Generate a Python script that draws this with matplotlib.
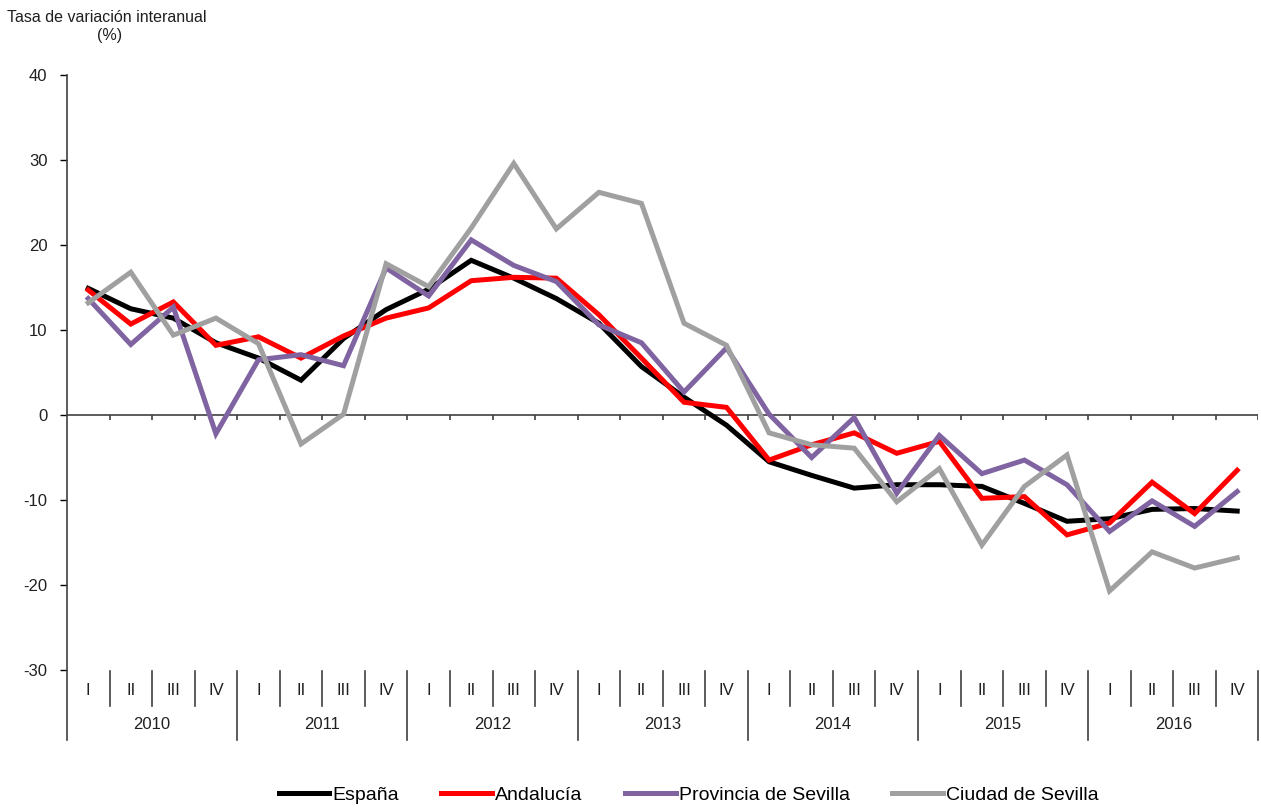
import matplotlib
matplotlib.use("Agg")
import matplotlib.pyplot as plt
from matplotlib.transforms import blended_transform_factory

plt.rcParams['font.family'] = ['Liberation Sans', 'DejaVu Sans']
plt.rcParams['axes.unicode_minus'] = False

# Datos trimestrales 2010-2016 (tasa de variación interanual, %)
years = ['2010', '2011', '2012', '2013', '2014', '2015', '2016']
quarters = ['I', 'II', 'III', 'IV']

espana = [14.9, 12.5, 11.4, 8.5, 6.7, 4.1, 9.0, 12.4,
          14.8, 18.2, 16.1, 13.7, 10.8, 5.7, 2.1, -1.2,
          -5.5, -7.1, -8.6, -8.2, -8.2, -8.4, -10.4, -12.5,
          -12.2, -11.1, -11.0, -11.3]
andalucia = [14.7, 10.7, 13.3, 8.2, 9.2, 6.7, 9.3, 11.4,
             12.6, 15.8, 16.2, 16.1, 11.8, 6.7, 1.5, 0.9,
             -5.3, -3.5, -2.1, -4.5, -3.1, -9.8, -9.6, -14.1,
             -12.7, -7.9, -11.6, -6.5]
provincia = [13.7, 8.3, 12.7, -2.2, 6.5, 7.1, 5.8, 17.3,
             14.0, 20.6, 17.6, 15.7, 10.6, 8.5, 2.7, 7.9,
             0.1, -5.0, -0.3, -9.2, -2.4, -6.9, -5.3, -8.2,
             -13.7, -10.1, -13.1, -9.0]
ciudad = [13.2, 16.8, 9.4, 11.4, 8.4, -3.4, 0.1, 17.8,
          15.1, 22.0, 29.6, 21.9, 26.2, 24.9, 10.8, 8.2,
          -2.1, -3.5, -3.9, -10.2, -6.3, -15.3, -8.4, -4.7,
          -20.7, -16.1, -18.0, -16.8]

series = [
    ('España', espana, '#000000'),
    ('Andalucía', andalucia, '#FF0000'),
    ('Provincia de Sevilla', provincia, '#8064A2'),
    ('Ciudad de Sevilla', ciudad, '#A0A0A0'),
]

n = len(espana)
x = list(range(n))

fig = plt.figure(figsize=(12.61, 8.10), dpi=100)
ax = fig.add_axes([0.0531, 0.1728, 0.9449, 0.7346])

for name, vals, col in series:
    ax.plot(x, vals, color=col, lw=3.6, label=name, solid_joinstyle='miter')

ax.set_xlim(-0.5, n - 0.5)
ax.set_ylim(-30, 40)
ax.set_yticks(range(-30, 41, 10))
ax.tick_params(axis='y', direction='out', length=5, width=1, labelsize=12, pad=9,
               labelcolor='#202020')
ax.set_xticks([])
for s in ['top', 'right', 'bottom', 'left']:
    ax.spines[s].set_visible(False)

# eje vertical prolongado hasta la zona de categorías
ax.plot([0, 0], [1, -0.118], transform=ax.transAxes, color='#404040', lw=1.2, clip_on=False)

# línea de cero con marcas
ax.axhline(0, color='#404040', lw=1.2, zorder=1)
bounds = [i + 0.5 for i in range(n)]
ax.vlines(bounds, -0.6, 0, color='#404040', lw=1.2)

# etiquetas de categoría
trans = blended_transform_factory(ax.transData, ax.transAxes)
for i in range(n):
    ax.text(i, -0.034, quarters[i % 4], transform=trans, ha='center', va='center',
            fontsize=12, color='#202020')
for k in range(1, n + 1):
    low = -0.118 if k % 4 == 0 else -0.060
    ax.plot([k - 0.5, k - 0.5], [-0.002, low], transform=trans, color='#404040',
            lw=1.2, clip_on=False)
for j, yr in enumerate(years):
    ax.text(j * 4 + 1.5, -0.092, yr, transform=trans, ha='center', va='center',
            fontsize=12, color='#202020')

fig.text(0.0055, 0.988, 'Tasa de variación interanual', ha='left', va='top', fontsize=11.5, color='#202020')
fig.text(0.087, 0.966, '(%)', ha='center', va='top', fontsize=11.5, color='#202020')

leg = fig.legend(loc='center', bbox_to_anchor=(0.546, 0.018), ncol=4, frameon=False,
                 fontsize=14, handlelength=2.6, handletextpad=0.15, columnspacing=2.2)

fig.savefig('out.png', dpi=100)
